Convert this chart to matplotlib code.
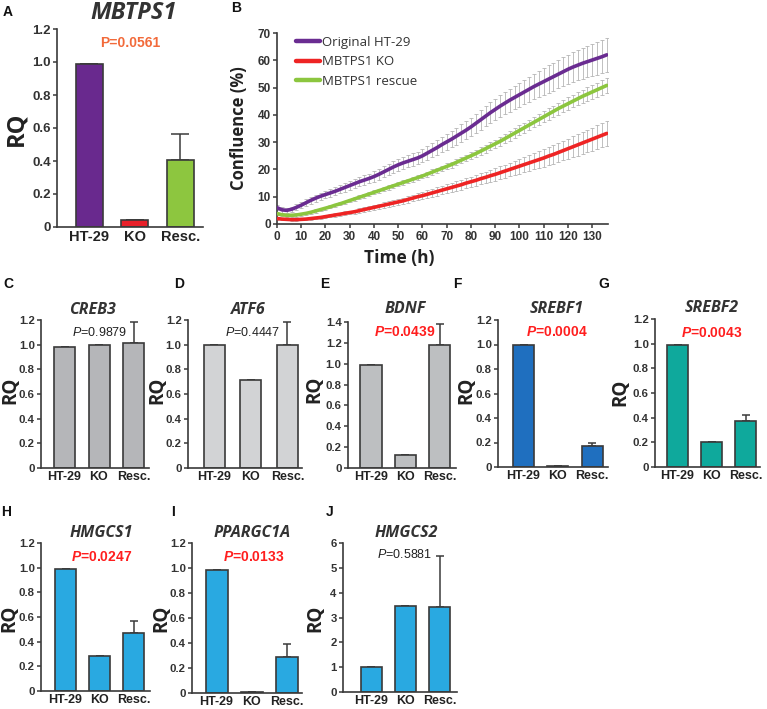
import numpy as np
import matplotlib
matplotlib.use("Agg")
import matplotlib.pyplot as plt

plt.rcParams['mathtext.fontset'] = 'custom'
plt.rcParams['mathtext.it'] = 'Liberation Sans:italic'
plt.rcParams['mathtext.bf'] = 'Liberation Sans:bold'
plt.rcParams['mathtext.bfit'] = 'Liberation Sans:bold:italic'
plt.rcParams['mathtext.rm'] = 'Liberation Sans'

W, H = 767, 709

# ---- data ----
groups = ['HT-29', 'KO', 'Resc.']

mbtps1 = [0.99, 0.045, 0.405]
mbtps1_err = [0, 0, 0.16]
creb3 = [0.985, 1.0, 1.01]
creb3_err = [0, 0, 0.17]
atf6 = [1.0, 0.715, 1.0]
atf6_err = [0, 0, 0.18]
bdnf = [0.99, 0.12, 1.18]
bdnf_err = [0, 0, 0.2]
srebf1 = [1.0, 0.01, 0.17]
srebf1_err = [0, 0, 0.03]
srebf2 = [0.99, 0.2, 0.375]
srebf2_err = [0, 0, 0.05]
hmgcs1 = [0.99, 0.285, 0.47]
hmgcs1_err = [0, 0, 0.1]
ppargc1a = [0.985, 0.01, 0.285]
ppargc1a_err = [0, 0, 0.11]
hmgcs2 = [1.0, 3.45, 3.42]
hmgcs2_err = [0, 0, 2.05]

# confluence curves, every 2 h from 0 to 136 h
hours = list(range(0, 137, 2))
orig_mean = [6.0, 5.2, 5.0, 5.4, 6.1, 6.9, 7.8, 8.7, 9.5, 10.2,
             10.8, 11.4, 12.0, 12.7, 13.4, 14.1, 14.8, 15.5, 16.1, 16.7,
             17.4, 18.2, 19.1, 20.0, 20.9, 21.7, 22.4, 23.0, 23.6, 24.2,
             25.0, 26.0, 27.0, 28.0, 29.1, 30.1, 31.1, 32.2, 33.3, 34.4,
             35.6, 36.9, 38.2, 39.5, 40.8, 42.0, 43.2, 44.3, 45.4, 46.4,
             47.4, 48.4, 49.4, 50.4, 51.3, 52.2, 53.1, 54.0, 54.9, 55.8,
             56.7, 57.5, 58.2, 58.9, 59.5, 60.1, 60.7, 61.3, 62.0]
orig_err = [1.0, 1.0, 1.0, 1.0, 1.1, 1.1, 1.2, 1.2, 1.3, 1.3,
            1.4, 1.4, 1.5, 1.5, 1.6, 1.6, 1.7, 1.7, 1.8, 1.8,
            1.9, 1.9, 2.0, 2.0, 2.1, 2.1, 2.2, 2.2, 2.3, 2.3,
            2.4, 2.5, 2.6, 2.7, 2.8, 2.9, 3.0, 3.1, 3.2, 3.3,
            3.4, 3.5, 3.6, 3.7, 3.8, 3.9, 4.0, 4.1, 4.2, 4.3,
            4.4, 4.5, 4.6, 4.7, 4.8, 4.9, 5.0, 5.1, 5.2, 5.3,
            5.4, 5.5, 5.6, 5.7, 5.8, 5.9, 6.0, 6.1, 6.2]
ko_mean = [2.0, 1.8, 1.7, 1.6, 1.6, 1.7, 1.8, 2.0, 2.2, 2.4,
           2.7, 3.0, 3.3, 3.6, 3.9, 4.2, 4.5, 4.9, 5.3, 5.7,
           6.1, 6.5, 6.9, 7.3, 7.7, 8.1, 8.5, 9.0, 9.5, 10.0,
           10.4, 10.9, 11.4, 11.9, 12.4, 12.9, 13.4, 13.9, 14.4, 15.0,
           15.5, 16.0, 16.6, 17.1, 17.7, 18.2, 18.8, 19.4, 20.0, 20.6,
           21.2, 21.8, 22.4, 23.0, 23.6, 24.2, 24.9, 25.5, 26.2, 26.9,
           27.6, 28.3, 29.0, 29.7, 30.4, 31.1, 31.8, 32.5, 33.2]
ko_err = [0.4, 0.4, 0.4, 0.4, 0.4, 0.4, 0.4, 0.5, 0.5, 0.5,
          0.5, 0.6, 0.6, 0.6, 0.7, 0.7, 0.7, 0.8, 0.8, 0.8,
          0.9, 0.9, 1.0, 1.0, 1.0, 1.1, 1.1, 1.2, 1.2, 1.3,
          1.3, 1.4, 1.4, 1.5, 1.5, 1.6, 1.7, 1.7, 1.8, 1.9,
          1.9, 2.0, 2.1, 2.1, 2.2, 2.3, 2.4, 2.4, 2.5, 2.6,
          2.7, 2.8, 2.9, 3.0, 3.1, 3.2, 3.3, 3.4, 3.5, 3.6,
          3.7, 3.8, 3.9, 4.0, 4.1, 4.2, 4.3, 4.4, 4.5]
resc_mean = [3.8, 3.4, 3.2, 3.2, 3.3, 3.6, 3.9, 4.3, 4.8, 5.3,
             5.8, 6.3, 6.9, 7.4, 8.0, 8.6, 9.2, 9.8, 10.4, 11.0,
             11.6, 12.2, 12.8, 13.4, 14.0, 14.6, 15.2, 15.8, 16.4, 17.0,
             17.6, 18.3, 19.0, 19.7, 20.4, 21.1, 21.8, 22.6, 23.4, 24.2,
             25.0, 25.8, 26.7, 27.6, 28.5, 29.4, 30.3, 31.3, 32.3, 33.3,
             34.3, 35.3, 36.3, 37.3, 38.3, 39.3, 40.3, 41.3, 42.3, 43.2,
             44.1, 45.0, 45.9, 46.8, 47.6, 48.4, 49.2, 50.0, 50.8]
resc_err = [0.6, 0.6, 0.6, 0.6, 0.6, 0.6, 0.6, 0.6, 0.6, 0.6,
            0.6, 0.6, 0.6, 0.6, 0.6, 0.7, 0.7, 0.7, 0.7, 0.7,
            0.7, 0.7, 0.7, 0.8, 0.8, 0.8, 0.8, 0.8, 0.9, 0.9,
            0.9, 0.9, 1.0, 1.0, 1.0, 1.1, 1.1, 1.1, 1.2, 1.2,
            1.3, 1.3, 1.4, 1.4, 1.5, 1.5, 1.6, 1.6, 1.7, 1.7,
            1.8, 1.8, 1.9, 1.9, 2.0, 2.0, 2.1, 2.1, 2.2, 2.2,
            2.3, 2.3, 2.4, 2.4, 2.5, 2.5, 2.6, 2.6, 2.7]

fig = plt.figure(figsize=(W / 100, H / 100), dpi=100)
DARK = '#3a3a3a'
TICKFONT = 'Liberation Sans'
TITLEFONT = 'Open Sans'


def px_axes(l, t, r, b):
    return fig.add_axes([l / W, 1 - b / H, (r - l) / W, (b - t) / H])


def ftext(x, y, s, **kw):
    fig.text(x / W, 1 - y / H, s, ha=kw.pop('ha', 'center'), va=kw.pop('va', 'center'), **kw)


def style_axes(ax, tsize):
    for side in ['top', 'right']:
        ax.spines[side].set_visible(False)
    for side in ['left', 'bottom']:
        ax.spines[side].set_color(DARK)
        ax.spines[side].set_linewidth(1.2)
    ax.tick_params(axis='y', direction='out', length=3, width=1.1, color=DARK, pad=1.5,
                   labelsize=tsize, labelcolor='#333333')
    for lab in ax.get_yticklabels():
        lab.set_fontweight('bold')
        lab.set_family(TICKFONT)


def bar_panel(rect, c0, sp, bw, vals, errs, colors, ymax, ticks, ticklabels,
              tsize=8.2, xsize=9, cap=3.0):
    l, t, r, b = rect
    ax = px_axes(l, t, r, b)
    x = np.arange(len(vals))
    ax.bar(x, vals, width=bw / sp, color=colors, edgecolor=DARK, linewidth=1.2, zorder=2)
    ax.errorbar(x, vals, yerr=[np.zeros(len(vals)), errs], fmt='none', ecolor=DARK,
                elinewidth=1.1, capsize=cap, capthick=1.1, zorder=1)
    ax.set_xlim(-(c0 - l) / sp, (r - c0) / sp)
    ax.set_ylim(0, ymax)
    ax.set_yticks(ticks)
    ax.set_yticklabels(ticklabels)
    ax.set_xticks(x)
    ax.set_xticklabels(groups, fontsize=xsize, fontweight='bold', family=TICKFONT, color='#222222')
    ax.tick_params(axis='x', length=0, pad=2)
    style_axes(ax, tsize)
    return ax


rq12 = [0, 0.2, 0.4, 0.6, 0.8, 1.0, 1.2]
rq12_lab = ['0', '0.2', '0.4', '0.6', '0.8', '1.0', '1.2']

# ---- A ----
bar_panel((57, 29, 203, 227), 89.5, 45.5, 27, mbtps1, mbtps1_err,
          ['#69298e', '#e8202a', '#8dc63f'], 1.2, rq12, rq12_lab,
          tsize=9.5, xsize=10.5, cap=6.5)
ftext(134, 13, 'MBTPS1', fontsize=17, fontweight='bold', style='italic', family=TITLEFONT, color='#333333')
ftext(130, 43, 'P=0.0561', fontsize=10, fontweight='bold', family=TICKFONT, color='#f26a3a')

# ---- B ----
axb = px_axes(277, 33, 608, 224)
series = [(orig_mean, orig_err, '#6a2c91', 'Original HT-29'),
          (ko_mean, ko_err, '#ee2424', 'MBTPS1 KO'),
          (resc_mean, resc_err, '#8cc63f', 'MBTPS1 rescue')]
for m, e, c, lab in series:
    axb.errorbar(hours, m, yerr=e, fmt='none', ecolor='#b5b5b5', elinewidth=0.6,
                 capsize=1.2, capthick=0.6, zorder=1)
for m, e, c, lab in series:
    axb.plot(hours, m, color=c, lw=2.6, label=lab, zorder=3, solid_capstyle='round')
axb.set_xlim(0, 136.5)
axb.set_ylim(0, 70)
axb.set_xticks(range(0, 131, 10))
axb.set_yticks(range(0, 71, 10))
style_axes(axb, 8.5)
axb.tick_params(axis='x', direction='out', length=3, width=1.1, color=DARK, pad=2,
                labelsize=8.5, labelcolor='#333333')
for lab in axb.get_xticklabels():
    lab.set_fontweight('bold')
    lab.set_family(TICKFONT)
ftext(239, 128, 'Confluence (%)', rotation=90, fontsize=12, fontweight='bold',
      family=TITLEFONT, color='#222222')
ftext(399, 258, 'Time (h)', fontsize=12.5, fontweight='bold', family=TITLEFONT, color='#222222')
leg = axb.legend(loc='upper left', bbox_to_anchor=(19 / 331, 0.985), frameon=False,
                 borderpad=0, borderaxespad=0, handlelength=1.8, handletextpad=0.2,
                 labelspacing=0.5, prop={'family': TITLEFONT, 'size': 9.5})
for h in leg.get_lines():
    h.set_linewidth(3.2)
for txt in leg.get_texts():
    txt.set_color('#333333')

# ---- row 2 ----
bar_panel((41, 320, 149, 468), 64.5, 34.5, 21, creb3, creb3_err, '#b5b6b9', 1.2, rq12, rq12_lab)
bar_panel((188, 320, 302, 468), 214, 36.7, 21, atf6, atf6_err, '#d2d3d5', 1.2, rq12, rq12_lab)
rq14 = [0, 0.2, 0.4, 0.6, 0.8, 1.0, 1.2, 1.4]
rq14_lab = ['0', '0.2', '0.4', '0.6', '0.8', '1.0', '1.2', '1.4']
bar_panel((348, 322, 456, 468), 371, 34.3, 21.5, bdnf, bdnf_err, '#bdbfc1', 1.4, rq14, rq14_lab)
bar_panel((498, 320, 608, 467), 523.5, 34.3, 21, srebf1, srebf1_err, '#1f6fbf', 1.2, rq12, rq12_lab)
bar_panel((655, 319, 760, 467), 677.5, 34.2, 21, srebf2, srebf2_err, '#0fa99c', 1.2, rq12, rq12_lab)

# ---- row 3 ----
bar_panel((41, 543, 150, 691), 65.5, 34, 21, hmgcs1, hmgcs1_err, '#29a9e1', 1.2, rq12, rq12_lab)
bar_panel((192, 543, 302, 693), 216.5, 35, 22, ppargc1a, ppargc1a_err, '#29a9e1', 1.2, rq12, rq12_lab)
bar_panel((343, 543, 457, 692), 371, 34.3, 21, hmgcs2, hmgcs2_err, '#29a9e1', 6,
          [0, 1, 2, 3, 4, 5, 6], ['0', '1', '2', '3', '4', '5', '6'])

# ---- RQ axis labels ----
rqkw = dict(rotation=90, fontweight='bold', family=TITLEFONT, color='#222222')
ftext(16, 129, 'RQ', fontsize=17, **rqkw)
for x, y in [(10, 390), (157, 390), (314, 389), (466, 390), (620, 392),
             (9, 618), (161, 618), (315, 618)]:
    ftext(x, y, 'RQ', fontsize=13.5, **rqkw)

# ---- titles ----
tkw = dict(fontsize=11.5, fontweight='bold', style='italic', family=TITLEFONT, color='#333333')
for x, y, s in [(92, 310, 'CREB3'), (248, 310, 'ATF6'), (405, 309, 'BDNF'),
                (557, 309, 'SREBF1'), (712, 308, 'SREBF2'),
                (101, 533, 'HMGCS1'), (252, 533, 'PPARGC1A'), (406, 533, 'HMGCS2')]:
    ftext(x, y, s, **tkw)

# ---- P values ----
pblack = dict(fontsize=9, family=TICKFONT, color='#222222')
pred = dict(fontsize=10, fontweight='bold', family=TICKFONT, color='#ff1e1e')
ftext(100, 333, r'$\mathit{P}$=0.9879', **pblack)
ftext(253, 333, r'$\mathit{P}$=0.4447', **pblack)
ftext(405, 332, r'$\mathbfit{P}$=0.0439', **pred)
ftext(557, 332, r'$\mathbfit{P}$=0.0004', **pred)
ftext(712, 333, r'$\mathbfit{P}$=0.0043', **pred)
ftext(102, 557, r'$\mathbfit{P}$=0.0247', **pred)
ftext(254, 557, r'$\mathbfit{P}$=0.0133', **pred)
ftext(405, 555, r'$\mathit{P}$=0.5881', **pblack)

# ---- panel letters ----
lkw = dict(fontsize=10, fontweight='bold', family=TICKFONT, color='#111111')
for x, y, s in [(8, 12, 'A'), (236, 8, 'B'), (8, 284, 'C'), (179, 284, 'D'),
                (325, 284, 'E'), (457, 284, 'F'), (604, 284, 'G'),
                (6, 512, 'H'), (173, 512, 'I'), (330, 512, 'J')]:
    ftext(x, y, s, **lkw)

fig.savefig('out.png', dpi=100)
